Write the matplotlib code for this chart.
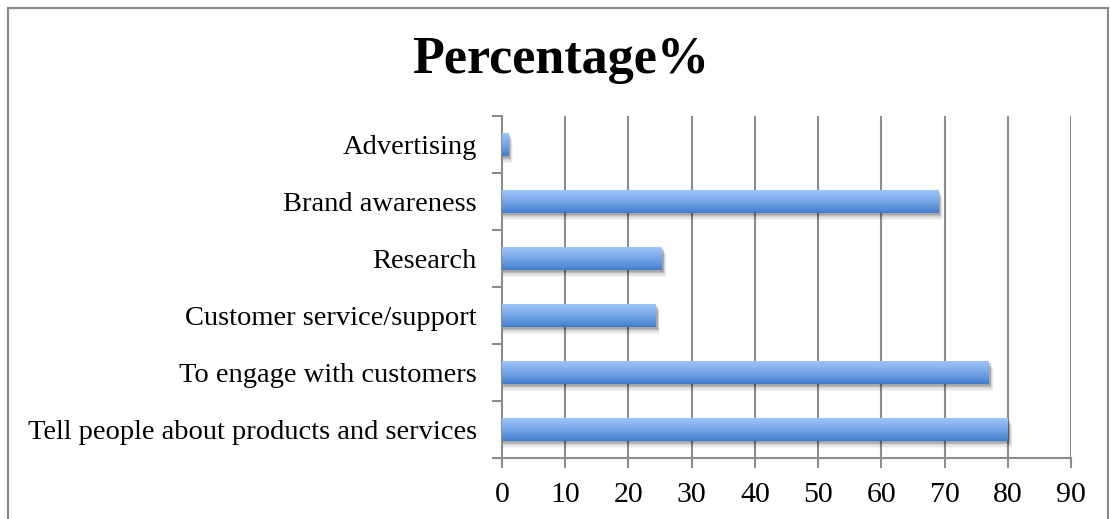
import numpy as np
import matplotlib.pyplot as plt
from matplotlib.patches import Rectangle

categories = ["Tell people about products and services", "To engage with customers",
              "Customer service/support", "Research", "Brand awareness", "Advertising"]
percentages = [80, 77, 24.3, 25.3, 69, 1]
x_ticks = [0, 10, 20, 30, 40, 50, 60, 70, 80, 90]

W, H = 1110, 519
fig = plt.figure(figsize=(W / 100, H / 100), dpi=100)
fig.patch.set_facecolor("white")

# outer chart frame (bottom edge runs off the canvas)
fig.patches.append(Rectangle((8 / W, -0.05), 1100 / W, 1.05 - 8 / H, transform=fig.transFigure,
                             fill=False, edgecolor="#8c8c8c", linewidth=1.6))

ax = fig.add_axes([502 / W, (H - 458) / H, 569 / W, 342 / H])

grid_color = "#8c8c8c"
for x in x_ticks[1:]:
    ax.axvline(x, color=grid_color, linewidth=1.5, zorder=1)

# vertical gradient used to fill the bars: light on top, darker at the bottom
grad = np.linspace(0, 1, 64).reshape(-1, 1)
top = np.array([0.62, 0.77, 0.98])
bot = np.array([0.24, 0.48, 0.80])
grad_img = (bot + (top - bot) * grad[:, :, None] ** 0.8) * np.ones((64, 2, 3))

bar_h = 0.4
bars = ax.barh(range(len(categories)), percentages, height=bar_h, color="none", zorder=3)
for b in bars:
    x0, y0, w, h = b.get_x(), b.get_y(), b.get_width(), b.get_height()
    # soft drop shadow, fading downwards
    for i, a in enumerate([0.12, 0.10, 0.08, 0.06, 0.04]):
        off = 0.03 + i * 0.025
        ax.add_patch(Rectangle((x0 + 0.1, y0 - off), w + 0.2 + i * 0.1, h,
                               facecolor="black", alpha=a, edgecolor="none", zorder=2))
    ax.add_patch(Rectangle((x0, y0), w, h, facecolor="white", edgecolor="none", zorder=2.5))
    ax.imshow(grad_img, extent=(x0, x0 + w, y0, y0 + h), origin="lower",
              aspect="auto", zorder=3, interpolation="bilinear")
ax.set_xlim(0, 90)
ax.set_ylim(-0.5, len(categories) - 0.5)

serif = ["Liberation Serif", "DejaVu Serif"]
ax.set_yticks(range(len(categories)))
ax.set_yticklabels(categories, fontfamily=serif, fontsize=20.5)
ax.set_yticks(np.arange(-0.5, len(categories), 1), minor=True)
ax.tick_params(axis="y", which="major", length=0, pad=18)
ax.tick_params(axis="y", which="minor", length=7, width=1.5, color=grid_color)

ax.set_xticks(x_ticks)
ax.set_xticklabels([str(t) for t in x_ticks], fontfamily=serif, fontsize=21.5)
ax.tick_params(axis="x", length=7, width=1.5, color=grid_color, pad=10.5)

for side in ["top", "right"]:
    ax.spines[side].set_visible(False)
for side in ["left", "bottom"]:
    ax.spines[side].set_color(grid_color)
    ax.spines[side].set_linewidth(1.5)

fig.text(561 / W, 1 - 73 / H, "Percentage%", ha="center", va="baseline",
         fontfamily=serif, fontsize=37.5, fontweight="bold")

fig.savefig("out.png", dpi=100)
